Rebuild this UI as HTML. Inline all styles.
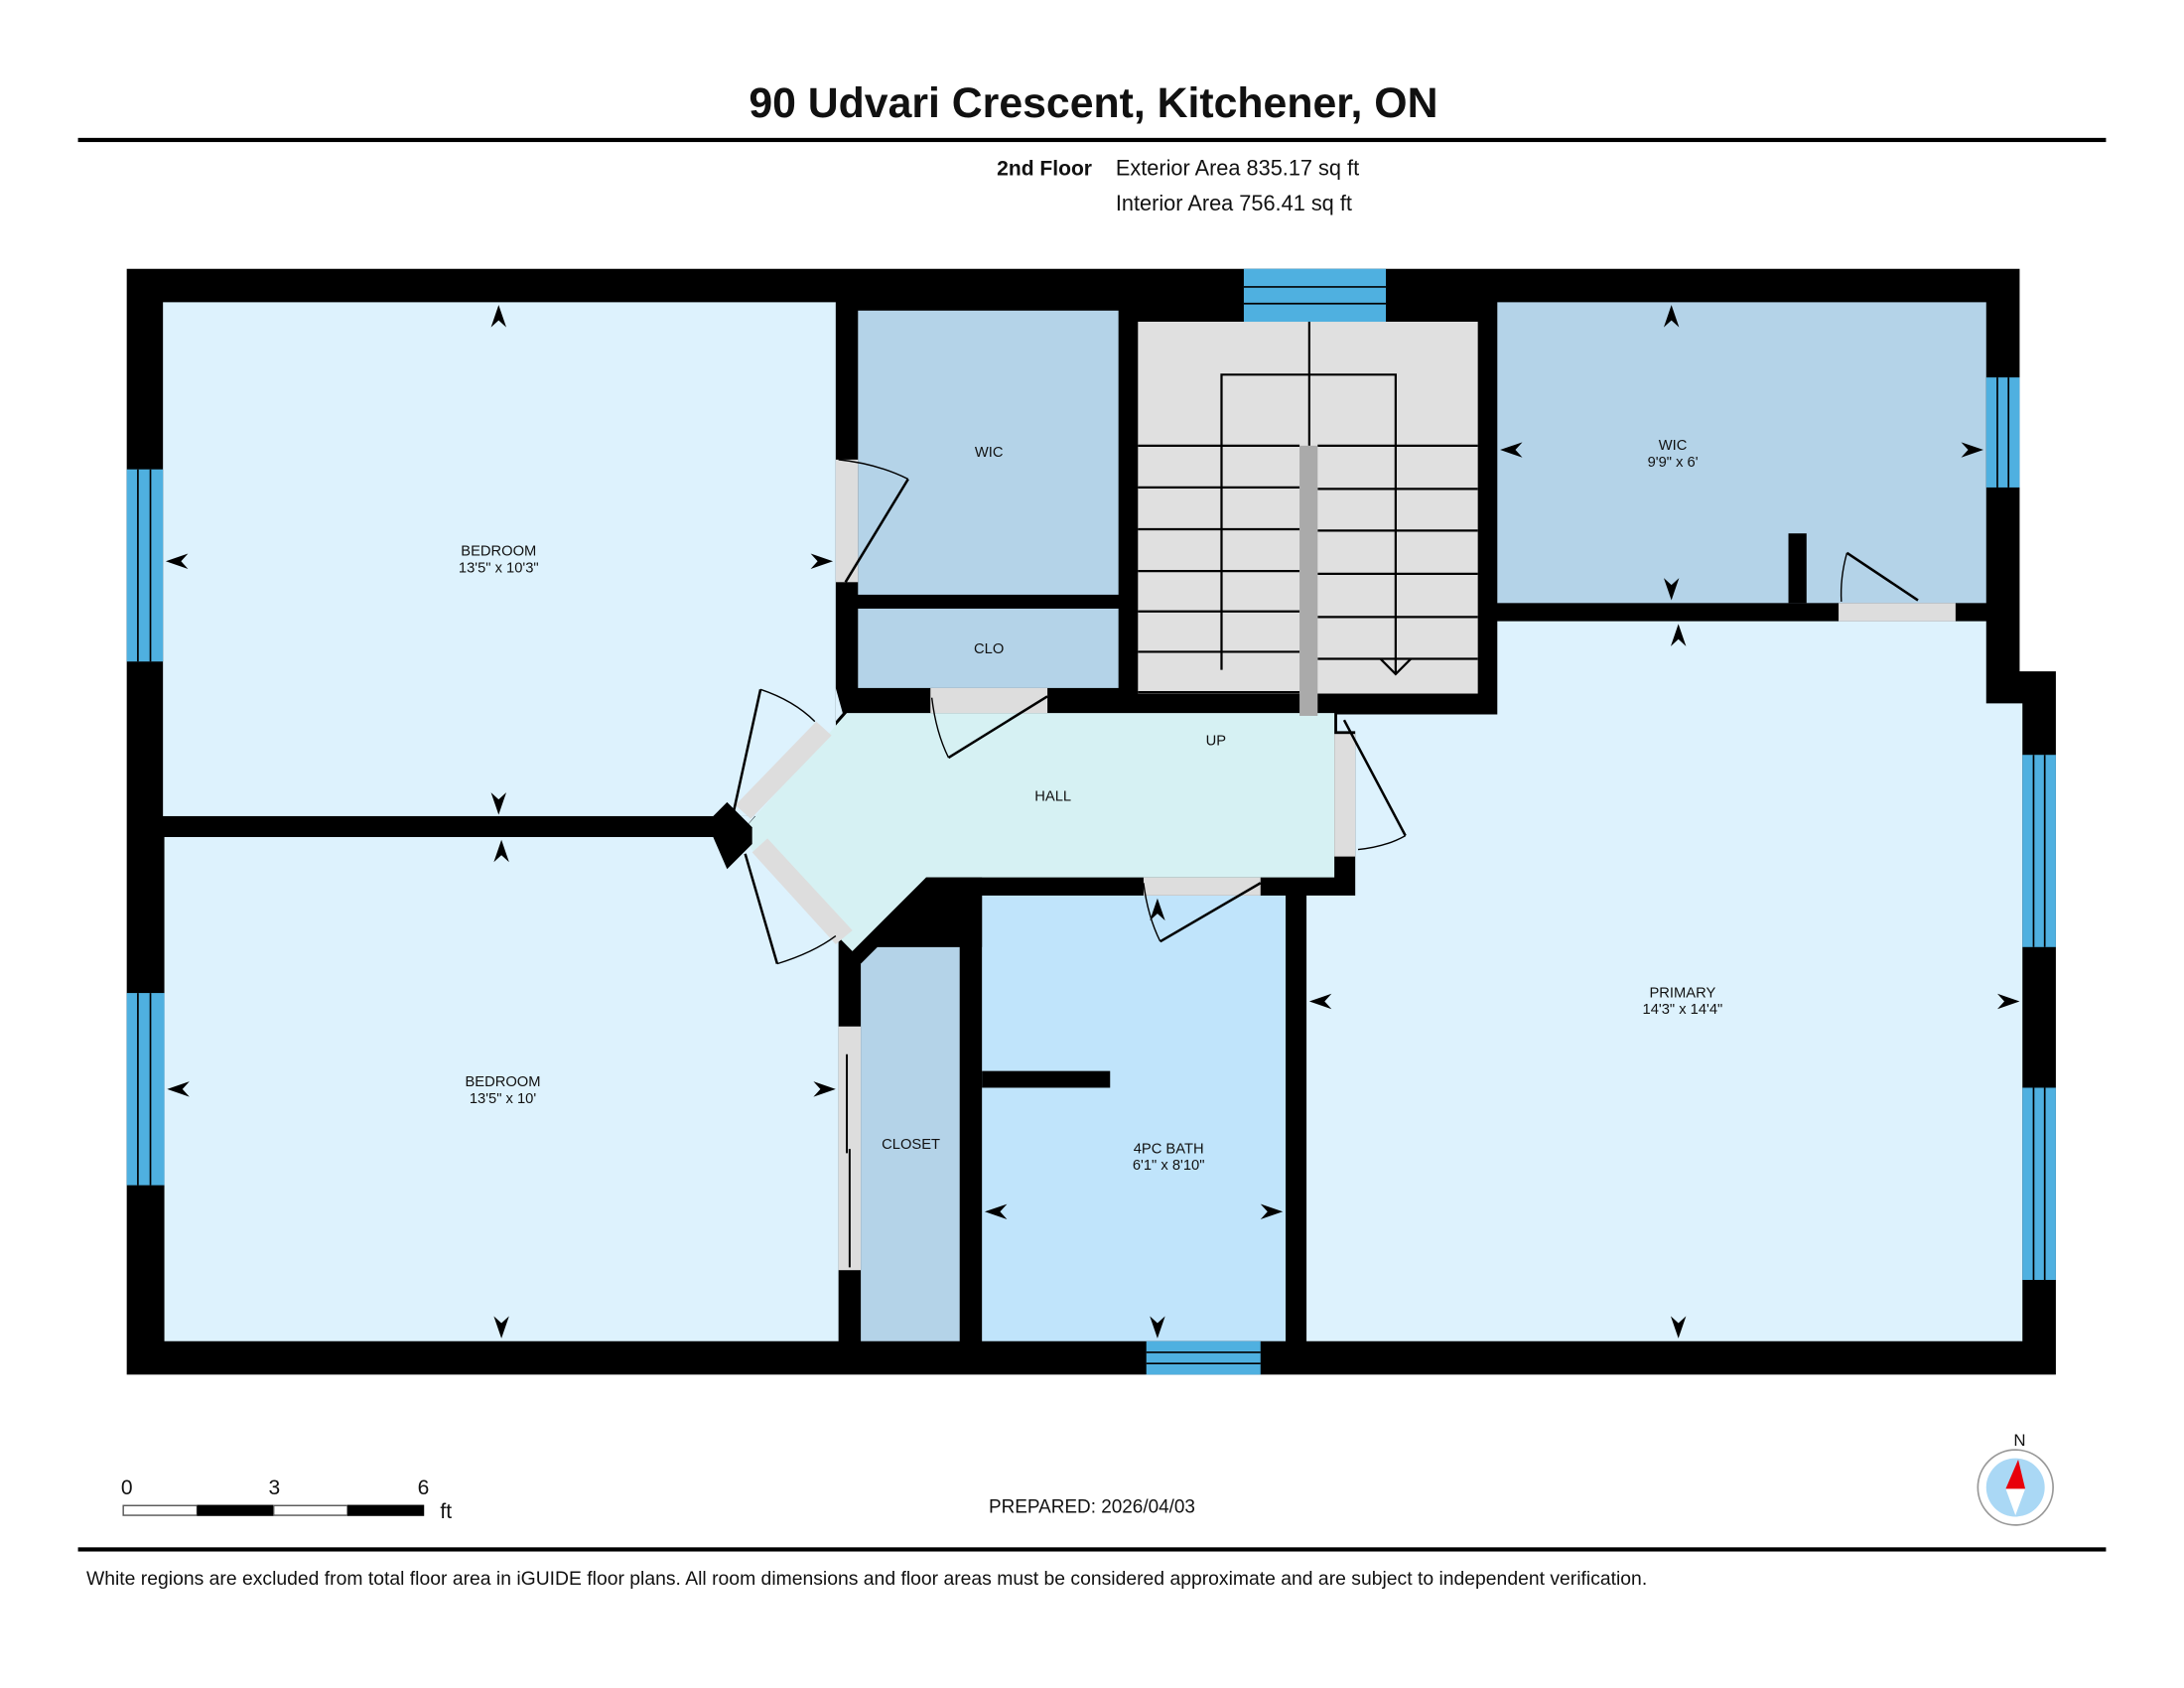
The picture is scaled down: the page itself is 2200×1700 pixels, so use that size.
<!DOCTYPE html>
<html><head><meta charset="utf-8"><style>
html,body{margin:0;padding:0;background:#fff;}
svg{display:block;}
text{font-family:"Liberation Sans",Arial,sans-serif;}
</style></head><body>
<svg width="2200" height="1700" viewBox="0 0 1568 1212" preserveAspectRatio="none" xmlns="http://www.w3.org/2000/svg">
<defs>
<polygon id="ar" points="0,0 -16,-5.5 -11,0 -16,5.5" fill="#000"/>
</defs>
<rect width="1568" height="1212" fill="#fff"/>
<text x="785" y="84" font-size="30.5" font-weight="bold" text-anchor="middle" fill="#111">90 Udvari Crescent, Kitchener, ON</text>
<rect x="56" y="99" width="1456" height="3" fill="#000"/>
<text x="784" y="126" font-size="15" font-weight="bold" text-anchor="end" fill="#111">2nd Floor</text>
<text x="801" y="126" font-size="15.5" fill="#111">Exterior Area 835.17 sq ft</text>
<text x="801" y="151" font-size="15.5" fill="#111">Interior Area 756.41 sq ft</text>

<polygon points="91,193 1450,193 1450,482 1476,482 1476,987 91,987" fill="#000"/>

<rect x="117" y="217" width="483" height="369" fill="#ddf2fd"/>
<rect x="118" y="601" width="484" height="362" fill="#ddf2fd"/>
<polygon points="512,586 600,586 600,494 605,512 530,600" fill="#ddf2fd"/>
<rect x="616" y="223" width="187" height="204" fill="#b4d3e8"/>
<rect x="616" y="437" width="187" height="57" fill="#b4d3e8"/>
<rect x="817" y="231" width="244" height="267" fill="#e0e0e0"/>
<rect x="1075" y="217" width="351" height="216" fill="#b4d3e8"/>
<polygon points="1075,446 1426,446 1426,505 1452,505 1452,963 938,963 938,643 973,643 973,525 960,525 960,513 1075,513" fill="#ddf2fd"/>
<polygon points="608,512 958,512 958,630 665,630 612,683 530,600" fill="#d6f1f3"/>
<polygon points="630,680 689,680 689,963 618,963 618,692" fill="#b4d3e8"/>
<rect x="705" y="643" width="218" height="320" fill="#c0e4fb"/>
<rect x="705" y="769" width="92" height="12" fill="#000"/>
<polygon points="665,630 705,630 705,680 630,680 612,683" fill="#000"/>
<polygon points="512,586 522,576 540,594 540,606 522,624 512,601" fill="#000"/>

<g stroke="#000" stroke-width="1.6" fill="none">
<line x1="940" y1="231" x2="940" y2="320"/>
<polyline points="877,481 877,269 1002,269 1002,483"/>
<polyline points="991,473 1002,484 1013,473"/>
<line x1="817" y1="320" x2="933" y2="320"/><line x1="946" y1="320" x2="1061" y2="320"/>
<line x1="817" y1="350" x2="933" y2="350"/><line x1="946" y1="351" x2="1061" y2="351"/>
<line x1="817" y1="380" x2="933" y2="380"/><line x1="946" y1="381" x2="1061" y2="381"/>
<line x1="817" y1="410" x2="933" y2="410"/><line x1="946" y1="412" x2="1061" y2="412"/>
<line x1="817" y1="439" x2="933" y2="439"/><line x1="946" y1="443" x2="1061" y2="443"/>
<line x1="817" y1="468" x2="933" y2="468"/><line x1="946" y1="473" x2="1061" y2="473"/>
<line x1="817" y1="497" x2="933" y2="497"/>
</g>
<rect x="933" y="320" width="13" height="194" fill="#aaa"/>

<g fill="#ddd">
<rect x="600" y="330" width="16" height="88"/>
<rect x="668" y="494" width="84" height="18"/>
<rect x="821" y="630" width="84" height="13"/>
<rect x="958" y="527" width="15" height="88"/>
<rect x="1320" y="433" width="84" height="13"/>
<rect x="602" y="737" width="16" height="175"/>
<polygon points="586,518 597,528 539,588 528,578"/>
<polygon points="540,612 551,602 612,668 600,678"/>
</g>
<g stroke="#000" stroke-width="1.8" fill="none">
<line x1="607" y1="418" x2="652" y2="344"/><path d="M602,330 Q630,333 652,344" stroke-width="1"/>
<line x1="681" y1="544" x2="752" y2="500"/><path d="M669,501 Q672,526 681,544" stroke-width="1"/>
<line x1="833" y1="676" x2="905" y2="634"/><path d="M821,634 Q824,658 833,676" stroke-width="1"/>
<line x1="965" y1="517" x2="1009" y2="600"/><path d="M975,610 Q995,608 1009,600" stroke-width="1"/>
<line x1="1326" y1="397" x2="1377" y2="431"/><path d="M1326,397 Q1321,415 1322,432" stroke-width="1"/>
<line x1="526" y1="586" x2="546" y2="495"/><path d="M546,495 Q570,503 585,518" stroke-width="1"/>
<line x1="535" y1="613" x2="558" y2="692"/><path d="M558,692 Q584,684 600,672" stroke-width="1"/>
<line x1="608" y1="757" x2="608" y2="828" stroke-width="1.4"/>
<line x1="610" y1="825" x2="610" y2="910" stroke-width="1.4"/>
</g>
<rect x="1284" y="383" width="13" height="50" fill="#000"/>

<g fill="#4fb0e0">
<rect x="91" y="337" width="26" height="138"/>
<rect x="91" y="713" width="27" height="138"/>
<rect x="893" y="193" width="102" height="38"/>
<rect x="1426" y="271" width="24" height="79"/>
<rect x="1452" y="542" width="24" height="138"/>
<rect x="1452" y="781" width="24" height="138"/>
<rect x="823" y="963" width="82" height="24"/>
</g>
<g stroke="#000" stroke-width="1.2">
<line x1="99" y1="337" x2="99" y2="475"/><line x1="108" y1="337" x2="108" y2="475"/>
<line x1="99" y1="713" x2="99" y2="851"/><line x1="108" y1="713" x2="108" y2="851"/>
<line x1="893" y1="206" x2="995" y2="206"/><line x1="893" y1="218" x2="995" y2="218"/>
<line x1="1434" y1="271" x2="1434" y2="350"/><line x1="1442" y1="271" x2="1442" y2="350"/>
<line x1="1460" y1="542" x2="1460" y2="680"/><line x1="1468" y1="542" x2="1468" y2="680"/>
<line x1="1460" y1="781" x2="1460" y2="919"/><line x1="1468" y1="781" x2="1468" y2="919"/>
<line x1="823" y1="971" x2="905" y2="971"/><line x1="823" y1="979" x2="905" y2="979"/>
</g>

<use href="#ar" transform="translate(358,219) rotate(-90)"/>
<use href="#ar" transform="translate(358,585) rotate(90)"/>
<use href="#ar" transform="translate(119,403) rotate(180)"/>
<use href="#ar" transform="translate(598,403)"/>
<use href="#ar" transform="translate(360,603) rotate(-90)"/>
<use href="#ar" transform="translate(360,961) rotate(90)"/>
<use href="#ar" transform="translate(120,782) rotate(180)"/>
<use href="#ar" transform="translate(600,782)"/>
<use href="#ar" transform="translate(1200,219) rotate(-90)"/>
<use href="#ar" transform="translate(1200,431) rotate(90)"/>
<use href="#ar" transform="translate(1077,323) rotate(180)"/>
<use href="#ar" transform="translate(1424,323)"/>
<use href="#ar" transform="translate(1205,448) rotate(-90)"/>
<use href="#ar" transform="translate(1205,961) rotate(90)"/>
<use href="#ar" transform="translate(940,719) rotate(180)"/>
<use href="#ar" transform="translate(1450,719)"/>
<use href="#ar" transform="translate(831,645) rotate(-90)"/>
<use href="#ar" transform="translate(831,961) rotate(90)"/>
<use href="#ar" transform="translate(707,870) rotate(180)"/>
<use href="#ar" transform="translate(921,870)"/>

<g font-size="10.5" fill="#111" text-anchor="middle">
<text x="358" y="399">BEDROOM</text><text x="358" y="411">13'5" x 10'3"</text>
<text x="361" y="780">BEDROOM</text><text x="361" y="792">13'5" x 10'</text>
<text x="710" y="328">WIC</text>
<text x="710" y="469">CLO</text>
<text x="873" y="535">UP</text>
<text x="756" y="575">HALL</text>
<text x="1201" y="323">WIC</text><text x="1201" y="335">9'9" x 6'</text>
<text x="1208" y="716">PRIMARY</text><text x="1208" y="728">14'3" x 14'4"</text>
<text x="654" y="825">CLOSET</text>
<text x="839" y="828">4PC BATH</text><text x="839" y="840">6'1" x 8'10"</text>
</g>

<text x="91" y="1073" font-size="15" text-anchor="middle" fill="#111">0</text>
<text x="197" y="1073" font-size="15" text-anchor="middle" fill="#111">3</text>
<text x="304" y="1073" font-size="15" text-anchor="middle" fill="#111">6</text>
<text x="316" y="1090" font-size="15" fill="#111">ft</text>
<rect x="88.5" y="1081" width="53" height="7" fill="#fff" stroke="#555" stroke-width="1"/>
<rect x="141.5" y="1080.5" width="55" height="8" fill="#000"/>
<rect x="196.5" y="1081" width="53" height="7" fill="#fff" stroke="#555" stroke-width="1"/>
<rect x="249.5" y="1080.5" width="55" height="8" fill="#000"/>

<text x="784" y="1086" font-size="13.5" text-anchor="middle" fill="#111">PREPARED: 2026/04/03</text>

<text x="1450" y="1038" font-size="12" text-anchor="middle" fill="#111">N</text>
<circle cx="1447" cy="1068" r="27" fill="#fff" stroke="#999" stroke-width="1.2"/>
<circle cx="1447" cy="1068" r="21" fill="#aad8f5"/>
<polygon points="1447,1088 1440,1069 1454,1069" fill="#fff"/>
<polygon points="1449,1048 1440,1069 1454,1069" fill="#e8000b"/>

<rect x="56" y="1111" width="1456" height="3" fill="#000"/>
<text x="62" y="1138" font-size="13.8" fill="#111">White regions are excluded from total floor area in iGUIDE floor plans. All room dimensions and floor areas must be considered approximate and are subject to independent verification.</text>
</svg>
</body></html>
